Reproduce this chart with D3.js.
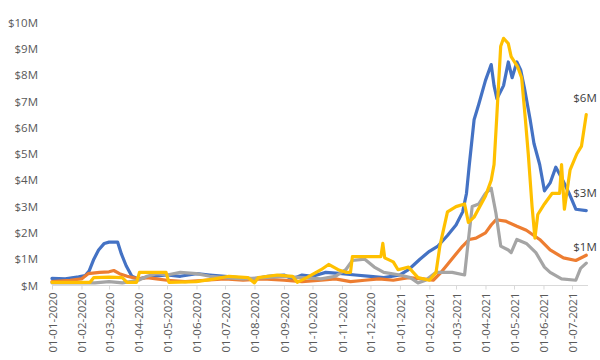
<!DOCTYPE html>
<html>
<head>
<meta charset="utf-8">
<script src="https://cdn.jsdelivr.net/npm/d3@7"></script>
<style>
  html, body { margin: 0; padding: 0; background: #fff; }
  svg { display: block; font-family: "Open Sans", "Liberation Sans", sans-serif; }
</style>
</head>
<body>
<svg id="chart" width="600" height="360"></svg>
<script>
// ---- Data (values in $ millions) ----
const monthTicks = ["2020-01-01","2020-02-01","2020-03-01","2020-04-01","2020-05-01","2020-06-01",
  "2020-07-01","2020-08-01","2020-09-01","2020-10-01","2020-11-01","2020-12-01",
  "2021-01-01","2021-02-01","2021-03-01","2021-04-01","2021-05-01","2021-06-01","2021-07-01"];
const yTicks = [0,1,2,3,4,5,6,7,8,9,10];

const blueSeries = [
  ["2020-01-01",0.27],["2020-01-15",0.25],["2020-01-29",0.33],["2020-02-05",0.38],["2020-02-09",0.55],
  ["2020-02-14",1.0],["2020-02-19",1.35],["2020-02-25",1.6],["2020-03-01",1.65],["2020-03-10",1.65],
  ["2020-03-14",1.2],["2020-03-19",0.75],["2020-03-25",0.35],["2020-04-01",0.25],["2020-04-15",0.35],
  ["2020-05-01",0.4],["2020-05-15",0.35],["2020-06-01",0.45],["2020-06-15",0.4],["2020-07-01",0.35],
  ["2020-07-15",0.3],["2020-08-01",0.25],["2020-08-15",0.35],["2020-09-01",0.4],["2020-09-10",0.25],
  ["2020-09-20",0.4],["2020-10-01",0.35],["2020-10-15",0.5],["2020-11-01",0.45],["2020-11-15",0.4],
  ["2020-12-01",0.35],["2020-12-15",0.3],["2021-01-01",0.4],["2021-01-10",0.6],["2021-01-22",1.0],
  ["2021-02-01",1.3],["2021-02-10",1.5],["2021-02-20",1.9],["2021-03-01",2.3],["2021-03-08",2.8],
  ["2021-03-12",3.5],["2021-03-15",4.6],["2021-03-20",6.3],["2021-03-25",6.9],["2021-04-01",7.8],
  ["2021-04-07",8.4],["2021-04-10",7.6],["2021-04-13",7.1],["2021-04-20",7.6],["2021-04-25",8.5],
  ["2021-04-29",7.9],["2021-05-04",8.5],["2021-05-08",8.2],["2021-05-12",7.5],["2021-05-18",6.3],
  ["2021-05-22",5.4],["2021-05-28",4.6],["2021-06-02",3.6],["2021-06-08",3.9],["2021-06-14",4.5],
  ["2021-06-20",4.1],["2021-06-28",3.5],["2021-07-05",2.9],["2021-07-16",2.85]
];
const orangeSeries = [
  ["2020-01-01",0.15],["2020-01-20",0.2],["2020-02-01",0.25],["2020-02-08",0.45],["2020-02-20",0.5],
  ["2020-03-01",0.52],["2020-03-06",0.57],["2020-03-12",0.45],["2020-03-20",0.35],["2020-04-01",0.25],
  ["2020-04-10",0.3],["2020-04-20",0.25],["2020-05-01",0.2],["2020-05-20",0.15],["2020-06-10",0.2],
  ["2020-07-01",0.25],["2020-07-20",0.2],["2020-08-10",0.25],["2020-09-01",0.2],["2020-09-20",0.15],
  ["2020-10-10",0.2],["2020-10-25",0.25],["2020-11-10",0.15],["2020-11-25",0.2],["2020-12-10",0.25],
  ["2020-12-25",0.2],["2021-01-10",0.3],["2021-01-25",0.25],["2021-02-05",0.2],["2021-02-12",0.45],
  ["2021-02-20",0.8],["2021-03-01",1.2],["2021-03-08",1.5],["2021-03-15",1.75],["2021-03-22",1.8],
  ["2021-04-01",2.0],["2021-04-07",2.3],["2021-04-12",2.5],["2021-04-22",2.45],["2021-05-04",2.25],
  ["2021-05-14",2.1],["2021-05-28",1.75],["2021-06-08",1.35],["2021-06-22",1.05],["2021-07-05",0.95],
  ["2021-07-16",1.15]
];
const graySeries = [
  ["2020-01-01",0.1],["2020-02-15",0.1],["2020-03-01",0.15],["2020-03-15",0.1],["2020-04-01",0.2],
  ["2020-04-10",0.35],["2020-04-20",0.45],["2020-05-01",0.4],["2020-05-15",0.5],["2020-06-01",0.45],
  ["2020-06-15",0.35],["2020-07-01",0.3],["2020-07-20",0.25],["2020-08-10",0.3],["2020-09-01",0.35],
  ["2020-09-20",0.3],["2020-10-10",0.25],["2020-10-25",0.35],["2020-11-05",0.6],["2020-11-12",0.95],
  ["2020-11-25",1.0],["2020-12-05",0.7],["2020-12-15",0.5],["2021-01-01",0.4],["2021-01-12",0.3],
  ["2021-01-20",0.1],["2021-01-28",0.2],["2021-02-08",0.5],["2021-02-25",0.5],["2021-03-10",0.4],
  ["2021-03-13",1.4],["2021-03-18",3.0],["2021-03-25",3.1],["2021-04-01",3.5],["2021-04-07",3.7],
  ["2021-04-12",2.75],["2021-04-17",1.5],["2021-04-25",1.35],["2021-04-28",1.25],["2021-05-04",1.75],
  ["2021-05-14",1.6],["2021-05-24",1.25],["2021-06-02",0.7],["2021-06-08",0.5],["2021-06-20",0.25],
  ["2021-07-05",0.2],["2021-07-10",0.65],["2021-07-16",0.85]
];
const yellowSeries = [
  ["2020-01-01",0.12],["2020-02-10",0.12],["2020-02-14",0.3],["2020-03-01",0.32],["2020-03-15",0.3],
  ["2020-03-20",0.12],["2020-03-30",0.12],["2020-04-02",0.5],["2020-04-30",0.5],["2020-05-03",0.12],
  ["2020-06-01",0.15],["2020-06-20",0.25],["2020-07-05",0.35],["2020-07-25",0.3],["2020-08-01",0.1],
  ["2020-08-05",0.3],["2020-08-25",0.4],["2020-09-10",0.35],["2020-09-15",0.12],["2020-09-25",0.3],
  ["2020-10-10",0.6],["2020-10-18",0.8],["2020-10-28",0.6],["2020-11-05",0.5],["2020-11-10",0.5],
  ["2020-11-12",1.1],["2020-12-05",1.1],["2020-12-12",1.1],["2020-12-14",1.6],["2020-12-16",1.05],
  ["2020-12-25",0.9],["2020-12-30",0.6],["2021-01-10",0.7],["2021-01-20",0.3],["2021-02-01",0.2],
  ["2021-02-08",0.5],["2021-02-12",1.5],["2021-02-20",2.8],["2021-03-01",3.0],["2021-03-10",3.1],
  ["2021-03-14",2.4],["2021-03-20",2.6],["2021-04-01",3.4],["2021-04-07",4.0],["2021-04-10",4.6],
  ["2021-04-13",6.5],["2021-04-17",9.1],["2021-04-20",9.4],["2021-04-25",9.2],["2021-04-28",8.7],
  ["2021-05-05",8.3],["2021-05-09",7.9],["2021-05-13",6.3],["2021-05-16",5.0],["2021-05-20",3.0],
  ["2021-05-23",1.8],["2021-05-26",2.7],["2021-06-02",3.1],["2021-06-10",3.5],["2021-06-18",3.5],
  ["2021-06-20",4.6],["2021-06-23",2.9],["2021-06-29",4.4],["2021-07-06",5.0],["2021-07-11",5.3],
  ["2021-07-16",6.5]
];
const endLabels = [
  {series: "yellow", text: "$6M"},
  {series: "blue",   text: "$3M"},
  {series: "orange", text: "$1M"}
];

// ---- Styles / layout ----
const colors = {blue: "#4472C4", orange: "#ED7D31", gray: "#A5A5A5", yellow: "#FFC000"};
const seriesList = [
  {name: "blue", data: blueSeries},
  {name: "orange", data: orangeSeries},
  {name: "gray", data: graySeries},
  {name: "yellow", data: yellowSeries}
];
const labelOffsets = {yellow: -17, blue: -18, orange: -8};

const parse = d3.timeParse("%Y-%m-%d");
const fmtTick = d3.timeFormat("%d-%m-%Y");

const svg = d3.select("#chart");
const x = d3.scaleTime()
  .domain([parse("2020-01-01"), parse("2021-07-01")])
  .range([52, 572]);
const y = d3.scaleLinear().domain([0, 10]).range([285.5, 22.5]);

// y labels
svg.append("g")
  .selectAll("text")
  .data(yTicks)
  .join("text")
  .attr("x", 38)
  .attr("y", d => y(d))
  .attr("dy", "0.36em")
  .attr("text-anchor", "end")
  .attr("font-size", 11.5)
  .attr("fill", "#595959")
  .text(d => d === 0 ? "$M" : "$" + d + "M");

// x axis
const xAxis = d3.axisBottom(x)
  .tickValues(monthTicks.map(parse))
  .tickSize(4)
  .tickFormat(fmtTick);
const gx = svg.append("g")
  .attr("transform", `translate(0,${y(0)})`)
  .call(xAxis);
gx.select(".domain").attr("d", `M52,0H588`).attr("stroke", "#d9d9d9");
gx.selectAll(".tick line").attr("stroke", "#d9d9d9");
gx.selectAll(".tick text")
  .attr("font-family", "'Open Sans', sans-serif")
  .attr("font-size", 11.5)
  .attr("fill", "#595959")
  .attr("text-anchor", "end")
  .attr("transform", "rotate(-90)")
  .attr("x", -7)
  .attr("y", 0)
  .attr("dy", "0.36em");

// lines
const line = d3.line()
  .x(d => x(parse(d[0])))
  .y(d => y(d[1]));

svg.append("g")
  .selectAll("path")
  .data(seriesList)
  .join("path")
  .attr("fill", "none")
  .attr("stroke", d => colors[d.name])
  .attr("stroke-width", 3.2)
  .attr("stroke-linejoin", "round")
  .attr("stroke-linecap", "round")
  .attr("d", d => line(d.data));

// end labels
svg.append("g")
  .selectAll("text")
  .data(endLabels)
  .join("text")
  .attr("x", d => {
    const s = seriesList.find(t => t.name === d.series).data;
    return x(parse(s[s.length - 1][0])) - 13;
  })
  .attr("y", d => {
    const s = seriesList.find(t => t.name === d.series).data;
    return y(s[s.length - 1][1]) + labelOffsets[d.series];
  })
  .attr("dy", "0.36em")
  .attr("font-size", 11.5)
  .attr("fill", "#404040")
  .text(d => d.text);
</script>
</body>
</html>
